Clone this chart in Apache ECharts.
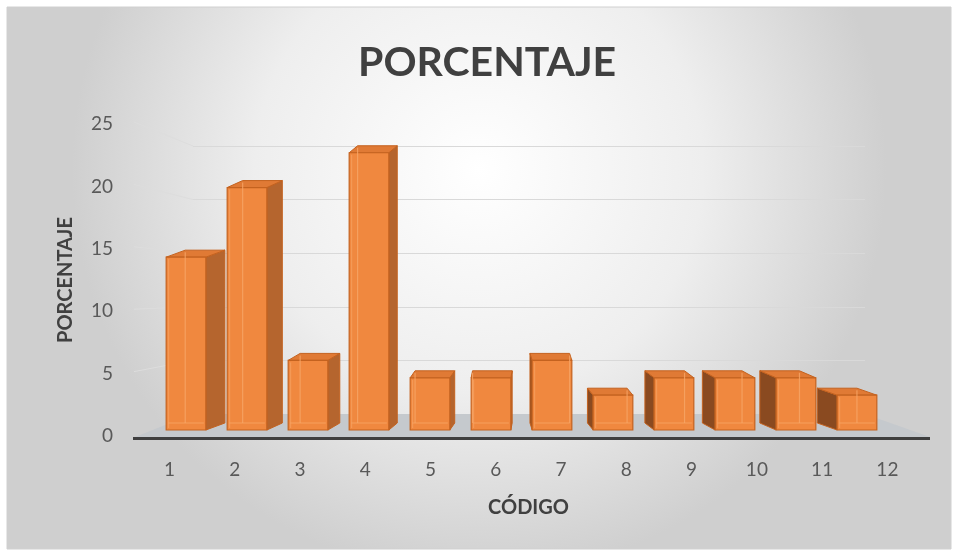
<!DOCTYPE html>
<html><head><meta charset="utf-8">
<script src="https://cdn.jsdelivr.net/npm/echarts@6/dist/echarts.min.js"></script>
<style>html,body{margin:0;padding:0;background:#fff}#c{width:958px;height:556px}</style>
</head><body><div id="c"></div>
<script>
const titleText = 'PORCENTAJE';
const xAxisName = 'CÓDIGO';
const yAxisName = 'PORCENTAJE';
const categories = ['1','2','3','4','5','6','7','8','9','10','11','12'];
const values = [14.9, 20.9, 6.0, 23.9, 4.5, 4.5, 6.0, 3.0, 4.5, 4.5, 4.5, 3.0];
const yMin = 0, yMax = 25, yInterval = 5;
const gridTicks = [5, 10, 15, 20, 25];

const FONT = 'Lato, "Open Sans", sans-serif';
const chart = echarts.init(document.getElementById('c'), null, {renderer: 'canvas'});

const FRONT = '#F0883F', SIDE_R = '#B5652E', SIDE_L = '#8A4A20', TOP = '#E07A35', EDGE = '#C4621F', INNER = '#F6A668';

function renderBar(params, api) {
  const cat = api.value(0), v = api.value(1);
  const top = api.coord([cat, v]);
  const base = api.coord([cat, 0]);
  const band = api.size([1, 0])[0];
  const w = band * 0.65;
  const cs = params.coordSys;
  const vp = cs.x + cs.width * 0.49;
  const dx = (vp - top[0]) * 0.058;
  const dy = -7;
  const x0 = top[0] - w / 2, x1 = top[0] + w / 2, yT = top[1], yB = base[1];
  const children = [];
  let side, sideColor;
  if (dx >= 0) {
    side = [[x1, yT], [x1 + dx, yT + dy], [x1 + dx, yB + dy], [x1, yB]];
    sideColor = SIDE_R;
  } else {
    side = [[x0, yT], [x0 + dx, yT + dy], [x0 + dx, yB + dy], [x0, yB]];
    sideColor = SIDE_L;
  }
  children.push({type: 'polygon', shape: {points: side}, style: {fill: sideColor, stroke: EDGE, lineWidth: 1}});
  children.push({type: 'polygon', shape: {points: [[x0, yT], [x1, yT], [x1 + dx, yT + dy], [x0 + dx, yT + dy]]}, style: {fill: TOP, stroke: EDGE, lineWidth: 1}});
  children.push({type: 'rect', shape: {x: x0, y: yT, width: w, height: yB - yT}, style: {fill: FRONT, stroke: EDGE, lineWidth: 1.2}});
  const bx = dx >= 0 ? x0 + dx : x1 + dx;
  children.push({type: 'line', shape: {x1: bx, y1: yT + dy + 2, x2: bx, y2: yB + dy}, style: {stroke: INNER, lineWidth: 1.2, opacity: 0.8}});
  children.push({type: 'line', shape: {x1: x0 + 2, y1: yB + dy, x2: x1 - 2, y2: yB + dy}, style: {stroke: INNER, lineWidth: 1.2, opacity: 0.8}});
  children.push({type: 'line', shape: {x1: x0 + 2.5, y1: yT + 2, x2: x0 + 2.5, y2: yB - 2}, style: {stroke: INNER, lineWidth: 1, opacity: 0.7}});
  return {type: 'group', children: children};
}

function renderFloor(params, api) {
  if (params.dataIndex !== 0) return null;
  const cs = params.coordSys;
  const by = cs.y + cs.height;
  const pts = [[cs.x - 58, by + 23], [cs.x, by], [cs.x + cs.width, by], [cs.x + cs.width + 65, by + 23]];
  return {type: 'group', children: [
    {type: 'polygon', shape: {points: pts}, style: {fill: '#C5C9CD'}},
    {type: 'line', shape: {x1: cs.x - 60, y1: by + 24.5, x2: cs.x + cs.width + 65, y2: by + 24.5}, style: {stroke: '#3F3F3F', lineWidth: 3}}
  ]};
}

const option = {
  backgroundColor: 'transparent',
  animation: false,
  graphic: [{
    type: 'rect', z: -10, silent: true,
    shape: {x: 7, y: 7, width: 944, height: 542},
    style: {
      fill: {type: 'radial', x: 0.5, y: 0.3, r: 0.75, colorStops: [{offset: 0, color: '#FFFFFF'}, {offset: 0.55, color: '#EEEEEE'}, {offset: 1, color: '#CFCFCF'}]},
      stroke: '#D0D0D0', lineWidth: 1
    }
  }],
  title: {
    text: titleText, left: 353, top: 37,
    textStyle: {fontFamily: FONT, fontWeight: 'bold', fontSize: 41, color: '#404040'}
  },
  grid: [
    {left: 137, right: 38, top: 124, bottom: 120},
    {left: 193, right: 93, top: 146, bottom: 142},
    {left: 155.5, right: 70.5, top: 140, bottom: 126}
  ],
  xAxis: [
    {type: 'category', gridIndex: 0, data: categories, axisLine: {show: false}, axisTick: {show: false},
     axisLabel: {margin: 24, fontFamily: FONT, fontSize: 19, color: '#595959'},
     name: xAxisName, nameLocation: 'middle', nameGap: 62,
     nameTextStyle: {fontFamily: FONT, fontWeight: 'bold', fontSize: 20, color: '#404040'}},
    {type: 'category', gridIndex: 1, data: categories, show: false},
    {type: 'category', gridIndex: 2, data: categories, show: false}
  ],
  yAxis: [
    {type: 'value', gridIndex: 0, min: yMin, max: yMax, interval: yInterval,
     axisLine: {show: false}, axisTick: {show: false}, splitLine: {show: false},
     axisLabel: {margin: 24, fontFamily: FONT, fontSize: 19, color: '#595959', verticalAlign: 'middle', padding: [4, 0, 0, 0]},
     name: yAxisName, nameLocation: 'middle', nameRotate: 90, nameGap: 61,
     nameTextStyle: {fontFamily: FONT, fontWeight: 'bold', fontSize: 20, color: '#404040'}},
    {type: 'value', gridIndex: 1, min: yMin, max: yMax, interval: yInterval,
     axisLine: {show: false}, axisTick: {show: false}, axisLabel: {show: false},
     splitLine: {show: true, lineStyle: {color: '#D9D9D9', width: 1}}},
    {type: 'value', gridIndex: 2, min: yMin, max: yMax, interval: yInterval, show: false, splitLine: {show: false}}
  ],
  series: [
    {type: 'custom', xAxisIndex: 1, yAxisIndex: 1, renderItem: renderFloor, data: values.map((v, i) => [i, 0]), z: 1, silent: true},
    {type: 'custom', xAxisIndex: 2, yAxisIndex: 2, renderItem: renderBar, data: values.map((v, i) => [i, v]), z: 5,
     encode: {x: 0, y: 1}}
  ]
};
chart.setOption(option);

const segs = gridTicks.map(t => {
  const front = chart.convertToPixel({gridIndex: 0}, [0, t]);
  const back = chart.convertToPixel({gridIndex: 1}, [0, t]);
  return {type: 'line', z: -5, silent: true,
    shape: {x1: 134, y1: front[1] - 2, x2: 193, y2: back[1]},
    style: {stroke: '#DDDDDD', lineWidth: 1}};
});
chart.setOption({graphic: option.graphic.concat(segs)});
</script></body></html>
